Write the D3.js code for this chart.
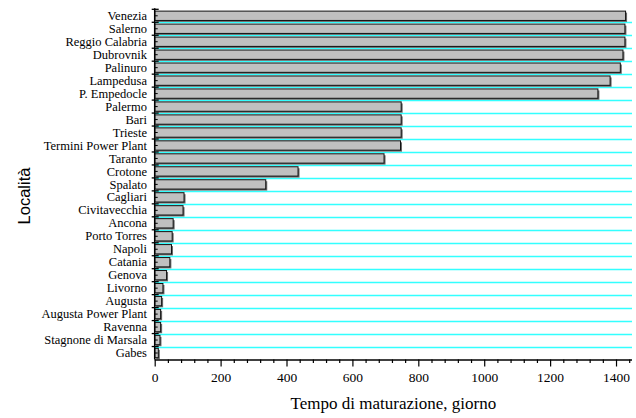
<!DOCTYPE html>
<html>
<head>
<meta charset="utf-8">
<script src="https://cdn.jsdelivr.net/npm/d3@7"></script>
<style>
  html, body { margin: 0; padding: 0; background: #fff; }
  svg { display: block; }
</style>
</head>
<body>
<svg id="chart" width="636" height="418"></svg>
<script>
// Sites, ordered from longest to shortest maturation time
const localita = [
  "Venezia", "Salerno", "Reggio Calabria", "Dubrovnik", "Palinuro", "Lampedusa",
  "P. Empedocle", "Palermo", "Bari", "Trieste", "Termini Power Plant", "Taranto",
  "Crotone", "Spalato", "Cagliari", "Civitavecchia", "Ancona", "Porto Torres",
  "Napoli", "Catania", "Genova", "Livorno", "Augusta", "Augusta Power Plant",
  "Ravenna", "Stagnone di Marsala", "Gabes"
];
// Maturation time (days)
const giorni = [
  1429, 1427, 1427, 1421, 1413, 1382,
  1345, 748, 748, 748, 746, 696,
  435, 337, 89, 86, 56, 53,
  51, 46, 36, 25, 21, 18,
  18, 16, 11
];
const xMajorTicks = [0, 200, 400, 600, 800, 1000, 1200, 1400];
const xMax = 1440;
const xMinorStep = 40;

const svg = d3.select("#chart");
const plotLeft = 154.7, plotRight = 629.2, plotTop = 9.3, plotBottom = 359.5;

const x = d3.scaleLinear().domain([0, xMax]).range([plotLeft, plotRight]);
const y = d3.scaleBand().domain(localita).range([plotTop, plotBottom])
  .paddingInner(0.28).paddingOuter(0.14);
const step = y.step();
const rowTop = d => y(d) - (step - y.bandwidth()) / 2;

const rows = localita.map((name, i) => ({ name, value: giorni[i] }));

// cyan separators between rows
svg.append("g").selectAll("line")
  .data(localita.slice(1))
  .join("line")
  .attr("x1", plotLeft).attr("x2", 632)
  .attr("y1", d => Math.round(rowTop(d)) + 0.5)
  .attr("y2", d => Math.round(rowTop(d)) + 0.5)
  .attr("stroke", "#33ffff").attr("stroke-width", 1.3);

// bars with a drop shadow
const bars = svg.append("g");
bars.selectAll("rect.shadow")
  .data(rows)
  .join("rect")
  .attr("class", "shadow")
  .attr("x", x(0) + 1.5)
  .attr("y", d => y(d.name) + 1.5)
  .attr("width", d => x(d.value) - x(0))
  .attr("height", y.bandwidth())
  .attr("fill", "#6a6a6a");
bars.selectAll("rect.bar")
  .data(rows)
  .join("rect")
  .attr("class", "bar")
  .attr("x", x(0))
  .attr("y", d => y(d.name))
  .attr("width", d => x(d.value) - x(0))
  .attr("height", y.bandwidth())
  .attr("fill", "#c0c0c0")
  .attr("stroke", "#111")
  .attr("stroke-width", 1);

// x axis: major labelled ticks plus minor ticks
const minorTicks = d3.range(0, xMax + 1, xMinorStep).filter(v => !xMajorTicks.includes(v));
const xAxisG = svg.append("g").attr("transform", `translate(0,${plotBottom})`);
xAxisG.append("g")
  .call(d3.axisBottom(x).tickValues(minorTicks).tickSize(3.5).tickFormat(""))
  .call(g => g.select(".domain").remove());
xAxisG.append("g")
  .call(d3.axisBottom(x).tickValues(xMajorTicks).tickFormat(d3.format("d"))
    .tickSize(7).tickSizeOuter(0).tickPadding(6))
  .call(g => g.select(".domain").attr("d", `M${plotLeft},0.5H632`));
xAxisG.selectAll("line").attr("stroke", "#000").attr("stroke-width", 1.2);
xAxisG.selectAll(".domain").attr("stroke", "#000").attr("stroke-width", 1.5);
xAxisG.selectAll("text")
  .attr("font-family", "'Liberation Serif', 'Times New Roman', serif")
  .attr("font-size", 13.5).attr("fill", "#000");

// y axis: line, boundary ticks and centre ticks
const yAxisG = svg.append("g");
yAxisG.append("line")
  .attr("x1", plotLeft).attr("x2", plotLeft)
  .attr("y1", plotTop - 1).attr("y2", plotBottom)
  .attr("stroke", "#000").attr("stroke-width", 1.5);
const bounds = localita.map(rowTop);
yAxisG.selectAll("line.major")
  .data(bounds)
  .join("line")
  .attr("class", "major")
  .attr("x1", plotLeft - 3).attr("x2", plotLeft + 4)
  .attr("y1", d => d).attr("y2", d => d)
  .attr("stroke", "#000").attr("stroke-width", 1.3);
yAxisG.selectAll("line.minor")
  .data(localita)
  .join("line")
  .attr("class", "minor")
  .attr("x1", plotLeft).attr("x2", plotLeft + 3)
  .attr("y1", d => y(d) + y.bandwidth() / 2).attr("y2", d => y(d) + y.bandwidth() / 2)
  .attr("stroke", "#000").attr("stroke-width", 1);
yAxisG.selectAll("text")
  .data(localita)
  .join("text")
  .attr("x", 147)
  .attr("y", d => y(d) + y.bandwidth() / 2)
  .attr("dy", "0.33em")
  .attr("text-anchor", "end")
  .attr("font-family", "'Liberation Serif', 'Times New Roman', serif")
  .attr("font-size", 12.5)
  .attr("fill", "#000")
  .text(d => d);

// axis titles
svg.append("text")
  .attr("x", (plotLeft + 632) / 2).attr("y", 409)
  .attr("text-anchor", "middle")
  .attr("font-family", "'Liberation Serif', 'Times New Roman', serif")
  .attr("font-size", 17).attr("fill", "#000")
  .text("Tempo di maturazione, giorno");
svg.append("text")
  .attr("transform", "translate(30,196) rotate(-90)")
  .attr("text-anchor", "middle")
  .attr("font-family", "'Liberation Sans', Arial, sans-serif")
  .attr("font-size", 16.5).attr("fill", "#000")
  .text("Località");
</script>
</body>
</html>
